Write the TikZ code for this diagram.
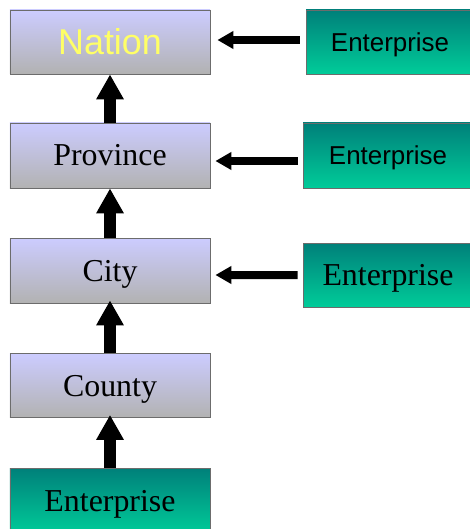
\documentclass[tikz,border=0pt]{standalone}
\usepackage{fontspec}
\setmainfont{Liberation Serif}
\newfontfamily\arialf{Liberation Sans}
\usetikzlibrary{arrows.meta}
\tikzset{
  x=1bp,y=1bp,
  level/.style={draw=gray!85!black, line width=0.8bp, top color=lav, bottom color=lgray, minimum width=200bp, minimum height=64bp, inner sep=0pt, text height=21bp, text depth=0pt, font=\fontsize{32}{36}\selectfont},
  ent/.style={draw=gray!85!black, line width=0.8bp, top color=tealtop, bottom color=tealbot, minimum height=64bp, inner sep=0pt, text height=21bp, text depth=0pt, font=\fontsize{32}{36}\selectfont},
  uparrow/.style={line width=12bp, -{Triangle[width=26bp,length=25bp]}},
  leftarrow/.style={line width=8bp, -{Triangle[width=17bp,length=16bp]}}
}
\definecolor{lav}{HTML}{CCCCFF}
\definecolor{lgray}{HTML}{B2B2B2}
\definecolor{tealtop}{HTML}{00807A}
\definecolor{tealbot}{HTML}{00CC99}
\definecolor{nationyellow}{HTML}{FFFF66}
\begin{document}
\begin{tikzpicture}
\useasboundingbox (0,0) rectangle (470,-529);
\begin{scope}
\clip (0,0) rectangle (470,-529);
\node[level, minimum height=64bp, font=\arialf\fontsize{36}{40}\selectfont, text height=26bp, text=nationyellow] (nation) at (110,-42) {Nation};
\node[level, minimum height=65bp] (province) at (110,-155.5) {Province};
\node[level, minimum height=65bp] (city) at (110,-270.5) {City};
\node[level] (county) at (110,-385.5) {County};
\node[ent, minimum width=200bp, minimum height=66bp] (ebottom) at (110,-501) {Enterprise};
\node[ent, minimum width=168bp, font=\arialf\fontsize{26}{30}\selectfont, text height=18.5bp] (e1) at (390,-42) {Enterprise};
\node[ent, minimum width=170bp, minimum height=65bp, font=\arialf\fontsize{26}{30}\selectfont, text height=18.5bp] (e2) at (388,-155.5) {Enterprise};
\node[ent, minimum width=170bp] (e3) at (388,-275) {Enterprise};
\end{scope}
\draw[uparrow] (province.north) -- (nation.south);
\draw[uparrow] (city.north) -- (province.south);
\draw[uparrow] (county.north) -- ([yshift=3bp]city.south);
\draw[uparrow] (ebottom.north) -- ([yshift=3bp]county.south);
\draw[leftarrow] ([xshift=-6bp,yshift=2bp]e1.west) -- ([xshift=7bp,yshift=2bp]nation.east);
\draw[leftarrow] ([xshift=-5bp,yshift=-5.5bp]e2.west) -- ([xshift=5bp,yshift=-5.5bp]province.east);
\draw[leftarrow] ([xshift=-5bp]e3.west) -- ([xshift=5bp,yshift=-4.5bp]city.east);
\end{tikzpicture}
\end{document}
